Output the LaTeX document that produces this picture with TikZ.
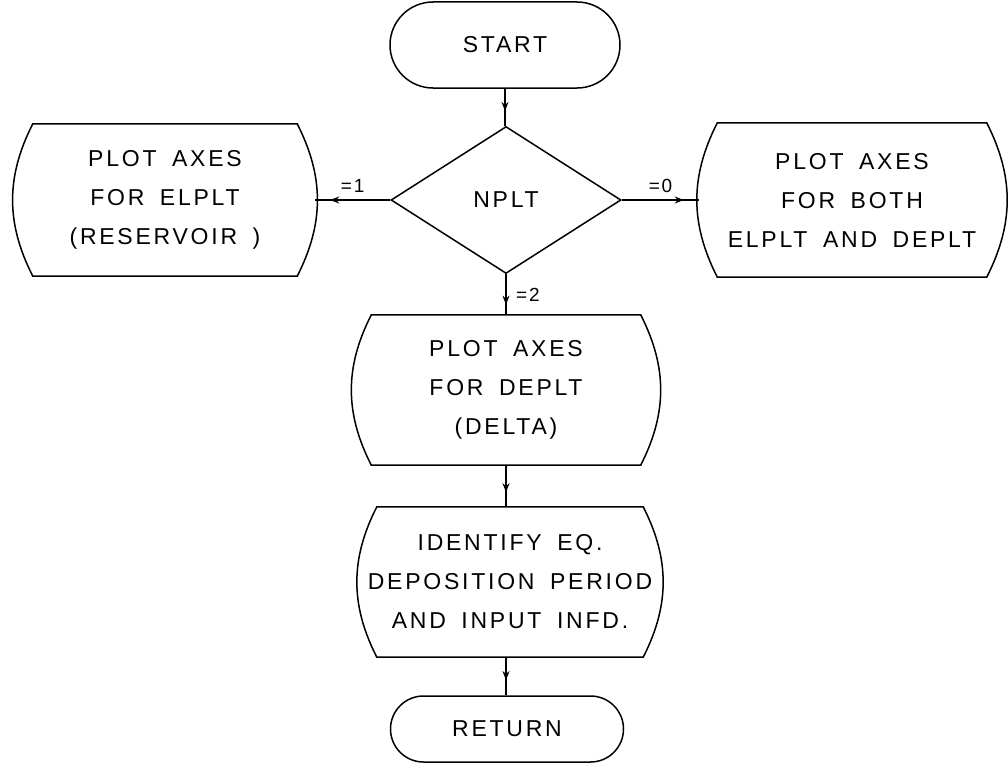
\documentclass[tikz,border=0pt]{standalone}
\usepackage{fontspec}
\setmainfont{Liberation Sans}
\newfontfamily\chartfont[LetterSpace=12,WordSpace=1.7]{Liberation Sans}
\newfontfamily\branchfont[LetterSpace=10]{Liberation Sans}
\usetikzlibrary{shapes.geometric,shapes.misc,arrows.meta,decorations.markings}

\tikzset{
  flow/.style={line width=1.5pt},
  termbox/.style={flow, draw, rounded rectangle, minimum width=230pt, inner sep=0pt},
  testbox/.style={flow, draw, diamond, minimum width=230pt, minimum height=147pt, inner sep=0pt},
  procbox/.style={minimum width=300pt, minimum height=152pt, inner sep=0pt, align=center},
  midarrow/.style={flow, postaction={decorate},
    decoration={markings, mark=at position #1 with {\arrow{Stealth[length=9pt,width=7pt]}}}},
  midarrow/.default=0.7,
  branch/.style={font=\branchfont\fontsize{19}{20}\selectfont}
}

% barrel outline round a process node
\newcommand{\procoutline}[1]{%
  \draw[flow] ([xshift=18pt]#1.north west) to[bend right=27] ([xshift=18pt]#1.south west)
    -- ([xshift=-18pt]#1.south east) to[bend right=27] ([xshift=-18pt]#1.north east) -- cycle;}

\begin{document}
\begin{tikzpicture}[x=1pt, y=-1pt, font=\chartfont\fontsize{23}{39}\selectfont]
\useasboundingbox (0,0) rectangle (1008,776);

\node[termbox, minimum height=86pt] (start) at (505,45) {START};
\node[testbox] (nplt) at (506,200) {NPLT};
\node[procbox] (elplt) at (165,200) {PLOT AXES\\FOR ELPLT\\(RESERVOIR )};
\node[procbox, minimum width=305pt, minimum height=154pt] (both) at (852,200)
  {PLOT AXES\\FOR BOTH\\ELPLT AND DEPLT};
\node[procbox, minimum width=305pt, minimum height=150pt] (deplt) at (506,390)
  {PLOT AXES\\FOR DEPLT\\(DELTA)};
\node[procbox, minimum width=302pt, minimum height=150pt] (ident) at (510,582)
  {IDENTIFY EQ.\\DEPOSITION PERIOD\\AND INPUT INFD.};
\node[termbox, minimum width=233pt, minimum height=66pt] (ret) at (507,729) {RETURN};

\procoutline{elplt}
\procoutline{both}
\procoutline{deplt}
\procoutline{ident}

% connectors
\draw[midarrow=0.6] (start.south) -- (start.south |- nplt.north);
\draw[midarrow=0.8] (nplt.west) -- node[branch, above=3pt] {=1} (elplt.east);
\draw[midarrow=0.8] (nplt.east) -- node[branch, above=3pt] {=0} (both.west);
\draw[midarrow=0.75] (nplt.south) -- node[branch, right=6pt] {=2} (nplt.south |- deplt.north);
\draw[midarrow=0.65] (deplt.south) -- (deplt.south |- ident.north);
\draw[midarrow=0.6] (deplt.south |- ident.south) -- (deplt.south |- ret.north);
\end{tikzpicture}
\end{document}
